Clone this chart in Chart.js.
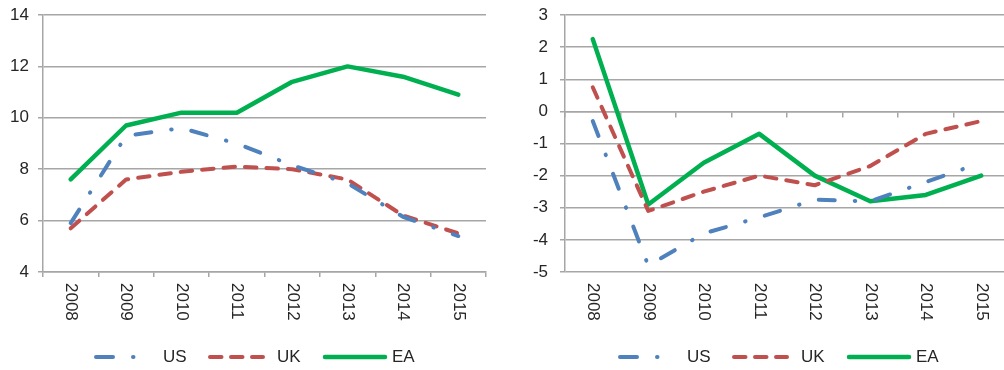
<!DOCTYPE html>
<html>
<head>
<meta charset="utf-8">
<script src="https://cdn.jsdelivr.net/npm/chart.js@4/dist/chart.umd.min.js"></script>
<style>
  html, body { margin: 0; padding: 0; background: #fff; overflow: hidden; }
  body { width: 1004px; height: 370px; position: relative; }
  canvas { position: absolute; top: 0; }
  #levels { left: 0; }
  #changes { left: 500px; }
</style>
</head>
<body>
<canvas id="levels" width="502" height="370"></canvas>
<canvas id="changes" width="520" height="370"></canvas>
<script>
// Years on the category axis
const years = ['2008', '2009', '2010', '2011', '2012', '2013', '2014', '2015'];

// Left panel: levels
const levelUS = [5.9, 9.3, 9.6, 9.0, 8.15, 7.45, 6.15, 5.4];
const levelUK = [5.7, 7.6, 7.9, 8.1, 8.0, 7.6, 6.2, 5.5];
const levelEA = [7.6, 9.7, 10.2, 10.2, 11.4, 12.0, 11.6, 10.9];
const levelRange = [4, 14, 2];   // min, max, step

// Right panel: changes
const changeUS = [-0.3, -4.8, -3.8, -3.3, -2.75, -2.8, -2.2, -1.6];
const changeUK = [0.75, -3.1, -2.5, -2.0, -2.3, -1.7, -0.7, -0.3];
const changeEA = [2.25, -2.9, -1.6, -0.7, -2.0, -2.8, -2.6, -2.0];
const changeRange = [-5, 3, 1];

const seriesNames = ['US', 'UK', 'EA'];

const FONT_FAMILY = "'Liberation Sans', Arial, sans-serif";
const FONT_SIZE = 17;
const TEXT = '#262626';
const GRID = '#a6a6a6';
const BLUE = '#4f81bd', RED = '#c0504d', GREEN = '#00b050';

// Year labels written downwards under the plot
const yearLabels = {
  id: 'yearLabels',
  afterDraw(chart, args, opts) {
    const ctx = chart.ctx;
    const xs = chart.scales.x;
    ctx.save();
    ctx.font = FONT_SIZE + 'px ' + FONT_FAMILY;
    ctx.fillStyle = TEXT;
    ctx.textAlign = 'left';
    ctx.textBaseline = 'middle';
    chart.data.labels.forEach((lab, i) => {
      ctx.save();
      ctx.translate(xs.getPixelForValue(i), opts.top);
      ctx.rotate(Math.PI / 2);
      ctx.fillText(lab, 0, 0);
      ctx.restore();
    });
    ctx.restore();
  }
};

// Line-sample key below the year labels
const lineKey = {
  id: 'lineKey',
  afterDraw(chart, args, opts) {
    const ctx = chart.ctx;
    chart.data.datasets.forEach((ds, i) => {
      const it = opts.items[i];
      ctx.save();
      ctx.strokeStyle = ds.borderColor;
      ctx.lineWidth = ds.borderWidth;
      ctx.lineCap = 'round';
      ctx.setLineDash(it.dash);
      ctx.beginPath();
      ctx.moveTo(opts.left + it.from, opts.y);
      ctx.lineTo(opts.left + it.to, opts.y);
      ctx.stroke();
      ctx.setLineDash([]);
      ctx.fillStyle = TEXT;
      ctx.font = FONT_SIZE + 'px ' + FONT_FAMILY;
      ctx.textAlign = 'left';
      ctx.textBaseline = 'middle';
      ctx.fillText(ds.label, opts.left + it.text, opts.y);
      ctx.restore();
    });
  }
};

const keyItems = [
  { from: 96, to: 133.5, dash: [17, 20, 0.5, 100], text: 163 },
  { from: 210, to: 263, dash: [11.5, 9.5], text: 277 },
  { from: 325, to: 385, dash: [], text: 392 }
];

function makeDatasets(us, uk, ea) {
  return [
    { label: seriesNames[0], data: us, borderColor: BLUE, borderWidth: 4,
      borderDash: [16, 20, 0.5, 20], borderCapStyle: 'round', borderJoinStyle: 'round',
      pointRadius: 0, tension: 0, fill: false },
    { label: seriesNames[1], data: uk, borderColor: RED, borderWidth: 4,
      borderDash: [11.5, 10], borderCapStyle: 'round', borderJoinStyle: 'round',
      pointRadius: 0, tension: 0, fill: false },
    { label: seriesNames[2], data: ea, borderColor: GREEN, borderWidth: 4.5,
      borderCapStyle: 'round', borderJoinStyle: 'round',
      pointRadius: 0, tension: 0, fill: false }
  ];
}

function makeChart(id, us, uk, ea, range, opt) {
  return new Chart(document.getElementById(id), {
    type: 'line',
    data: { labels: years, datasets: makeDatasets(us, uk, ea) },
    plugins: [yearLabels, lineKey],
    options: {
      responsive: false,
      animation: false,
      devicePixelRatio: 1,
      layout: { padding: { top: 15, right: opt.padRight, left: 0, bottom: opt.padBottom } },
      plugins: {
        legend: { display: false },
        tooltip: { enabled: false },
        yearLabels: { top: 283 },
        lineKey: { left: opt.keyLeft, y: 357, items: keyItems }
      },
      scales: {
        x: {
          type: 'category',
          position: opt.xPosition,
          offset: true,
          grid: { offset: true, drawOnChartArea: false, drawTicks: true, tickLength: 5,
                  color: GRID, lineWidth: 1.5 },
          border: { display: true, color: GRID, width: 1.5 },
          ticks: { display: false },
          afterFit(s) {
            s.height = opt.xHeight;
            s.paddingLeft = 0; s.paddingRight = 0;
          }
        },
        y: {
          min: range[0],
          max: range[1],
          ticks: { stepSize: range[2], padding: opt.yPad, color: TEXT,
                   font: { family: FONT_FAMILY, size: FONT_SIZE } },
          grid: { color: GRID, lineWidth: 1.5, tickLength: 5 },
          border: { display: true, color: GRID, width: 1.5 },
          afterFit(s) {
            s.width = opt.yWidth;
            s.paddingTop = 0; s.paddingBottom = 0;
          }
        }
      }
    }
  });
}

makeChart('levels', levelUS, levelUK, levelEA, levelRange,
  { padRight: 16, padBottom: 0, xHeight: 98, yWidth: 43, yPad: 9, keyLeft: 0, xPosition: 'bottom' });

makeChart('changes', changeUS, changeUK, changeEA, changeRange,
  { padRight: 11, padBottom: 98, xHeight: 0, yWidth: 65, yPad: 12, keyLeft: 24, xPosition: { y: 0 } });
</script>
</body>
</html>
